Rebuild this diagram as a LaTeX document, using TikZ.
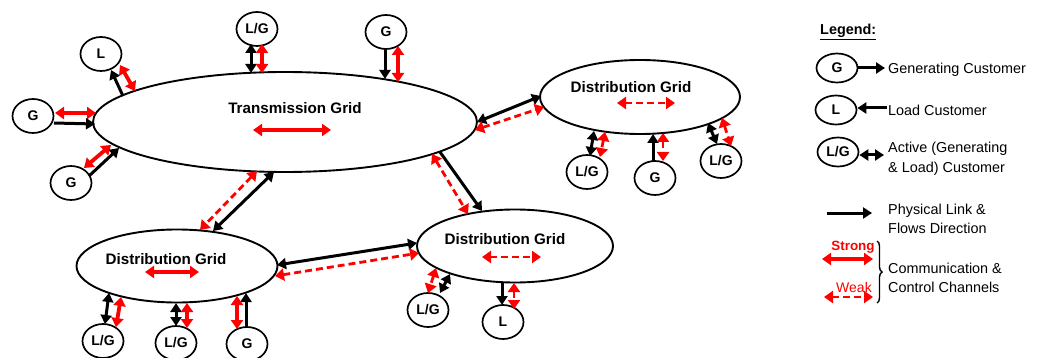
\documentclass[tikz,border=0pt]{standalone}
\usepackage{fontspec}
\setmainfont{Liberation Sans}
\usetikzlibrary{arrows.meta,shapes.geometric,calc,decorations.pathreplacing}
\definecolor{sigred}{RGB}{255,0,0}

\tikzset{
  gridellipse/.style={ellipse, draw, line width=1.9pt, inner sep=0pt},
  cust/.style={ellipse, draw, line width=1.7pt, minimum width=41pt, minimum height=34pt,
    inner sep=0pt, font=\fontsize{14}{16}\selectfont\bfseries},
  gridlabel/.style={font=\fontsize{15.2}{18}\selectfont\bfseries, inner sep=0pt},
  tipk/.tip={Triangle[length=9pt,width=11pt]},
  tipr/.tip={Triangle[length=9pt,width=12pt]},
  phys/.style={draw=black, line width=3pt, -tipk},
  physboth/.style={draw=black, line width=3pt, tipk-tipk},
  strongch/.style={draw=sigred, line width=3.8pt, tipr-tipr},
  weakch/.style={draw=sigred, line width=2.8pt, dash pattern=on 7pt off 4pt, tipr-tipr},
  legtext/.style={font=\fontsize{14.4}{19.5}\selectfont, align=left, anchor=west, inner sep=0pt},
}

\begin{document}
\begin{tikzpicture}[x=1pt,y=-1pt]
\useasboundingbox (0,0) rectangle (1046,358);

% grids
\node[gridellipse, minimum width=384pt, minimum height=100pt] (T) at (285,122) {};
\node[gridellipse, minimum width=200pt, minimum height=74pt] (DA) at (640,97) {};
\node[gridellipse, minimum width=201pt, minimum height=73pt] (DB) at (177,266) {};
\node[gridellipse, minimum width=196pt, minimum height=73pt] (DC) at (515,246) {};

\node[gridlabel] (Tl) at ($(T)+(10,-14)$) {Transmission Grid};
\node[gridlabel] (DAl) at ($(DA)+(-9,-10)$) {Distribution Grid};
\node[gridlabel] (DBl) at ($(DB)+(-11,-7)$) {Distribution Grid};
\node[gridlabel] (DCl) at ($(DC)+(-10,-7)$) {Distribution Grid};

% channels inside each grid
\draw[strongch] ($(T)+(-32,8)$) -- ($(T)+(46,8)$);
\draw[weakch] ($(DA)+(-23,6)$) -- ($(DA)+(35,6)$);
\draw[strongch] ($(DB)+(-32,6)$) -- ($(DB)+(22,6)$);
\draw[weakch] ($(DC)+(-33,11)$) -- ($(DC)+(26,11)$);

% customers
\node[cust] (L1) at (101,54) {L};
\node[cust] (G1) at (33,116) {G};
\node[cust] (G2) at (71,183) {G};
\node[cust] (LG1) at (257,29) {L/G};
\node[cust] (G3) at (386,32) {G};
\node[cust] (LG2) at (587,172) {L/G};
\node[cust] (G4) at (655,178) {G};
\node[cust] (LG3) at (721,161) {L/G};
\node[cust] (LG4) at (103,341) {L/G};
\node[cust] (LG5) at (176,343) {L/G};
\node[cust] (G5) at (247,344) {G};
\node[cust] (LG6) at (428,310) {L/G};
\node[cust] (L2) at (503,322) {L};

% transmission grid links
\draw[phys] ($(T)+(-162,-26)$) -- ($(L1)+(10,16)$);
\draw[strongch] ($(L1)+(19,11)$) -- ($(T)+(-150,-31)$);
\draw[strongch] ($(G1)+(22,-3)$) -- ($(T)+(-189,-9)$);
\draw[phys] ($(G1)+(21,7)$) -- ($(T)+(-190,2)$);
\draw[strongch] ($(G2)+(13,-15)$) -- ($(T)+(-174,23)$);
\draw[phys] ($(G2)+(18,-7)$) -- ($(T)+(-166,26)$);
\draw[physboth] ($(LG1)+(-6,15)$) -- ($(T)+(-34,-49)$);
\draw[strongch] ($(LG1)+(5,15)$) -- ($(T)+(-23,-49)$);
\draw[phys] ($(G3)+(-1,16)$) -- ($(T)+(100,-43)$);
\draw[strongch] ($(G3)+(12,14)$) -- ($(T)+(113,-40)$);

% grid to grid links
\draw[physboth] ($(T)+(192,0)$) -- ($(DA)+(-99,-1)$);
\draw[weakch] ($(T)+(190,8)$) -- ($(DA)+(-96,10)$);
\draw[phys] ($(T)+(155,30)$) -- ($(DC)+(-33,-35)$);
\draw[weakch] ($(T)+(147,32)$) -- ($(DC)+(-47,-32)$);
\draw[physboth] ($(T)+(-11,50)$) -- ($(DB)+(36,-35)$);
\draw[weakch] ($(T)+(-28,49)$) -- ($(DB)+(23,-36)$);
\draw[physboth] ($(DB)+(100,-1)$) -- ($(DC)+(-98,-3)$);
\draw[weakch] ($(DB)+(98,10)$) -- ($(DC)+(-96,7)$);

% upper-right distribution grid customers
\draw[physboth] ($(DA)+(-46,34)$) -- ($(LG2)+(3,-16)$);
\draw[weakch] ($(DA)+(-35,35)$) -- ($(LG2)+(13,-15)$);
\draw[phys] ($(G4)+(-2,-17)$) -- ($(DA)+(13,37)$);
\draw[weakch] ($(DA)+(23,36)$) -- ($(G4)+(8,-17)$);
\draw[physboth] ($(DA)+(68,26)$) -- ($(LG3)+(-4,-17)$);
\draw[weakch] ($(DA)+(82,21)$) -- ($(LG3)+(10,-15)$);

% lower-left distribution grid customers
\draw[physboth] ($(DB)+(-68,27)$) -- ($(LG4)+(2,-17)$);
\draw[strongch] ($(DB)+(-56,31)$) -- ($(LG4)+(13,-14)$);
\draw[physboth] ($(DB)+(-1,37)$) -- ($(LG5)+(0,-17)$);
\draw[strongch] ($(DB)+(10,37)$) -- ($(LG5)+(11,-15)$);
\draw[phys] ($(G5)+(-1,-17)$) -- ($(DB)+(69,27)$);
\draw[strongch] ($(DB)+(60,30)$) -- ($(G5)+(-10,-15)$);

% middle distribution grid customers
\draw[weakch] ($(DC)+(-79,22)$) -- ($(LG6)+(0,-17)$);
\draw[physboth] ($(DC)+(-65,28)$) -- ($(LG6)+(12,-17)$);
\draw[phys] ($(DC)+(-13,37)$) -- ($(L2)+(-1,-17)$);
\draw[weakch] ($(DC)+(-1,37)$) -- ($(L2)+(11,-13)$);

% legend
\node[font=\fontsize{14.4}{16}\selectfont\bfseries, anchor=west, inner sep=0pt] (leg) at (820,32) {\underline{Legend:}};
\node[cust, minimum height=29pt] (gG) at (837,68) {G};
\node[legtext] (tGen) at (888,70) {Generating Customer};
\draw[phys] (gG.east) -- ($(tGen.west)+(-3,-2)$);
\node[cust, minimum height=29pt] (gL) at (836,110) {L};
\node[legtext] (tLoad) at (888,110) {Load Customer};
\draw[phys] ($(tLoad.west)+(-1,-2)$) -- ($(gL.east)+(0,-2)$);
\node[cust, minimum height=29pt] (gLG) at (838,152) {L/G};
\node[legtext] (tAct) at (888,159) {Active (Generating\\\& Load) Customer};
\draw[physboth] ($(gLG.east)+(0,3)$) -- ($(tAct.west)+(-4,-4)$);

\coordinate (pA) at (827,213);
\coordinate (pB) at (872,213);
\draw[phys] (pA) -- (pB);
\node[legtext] (tPhys) at (888,219) {Physical Link \&\\Flows Direction};

\node[font=\fontsize{13.4}{15}\selectfont\bfseries, text=sigred, inner sep=0pt] (sL) at (853,247) {Strong};
\coordinate (sA) at (822,259);
\coordinate (sB) at (873,259);
\draw[strongch] (sA) -- (sB);
\node[font=\fontsize{14}{15}\selectfont, text=sigred, inner sep=0pt] (wL) at (854,287) {Weak};
\coordinate (wA) at (824,297);
\coordinate (wB) at (873,297);
\draw[weakch] (wA) -- (wB);

\coordinate (bA) at (877,241);
\coordinate (bB) at (877,303);
\draw[line width=1.4pt, decorate, decoration={brace, amplitude=5pt}] (bA) -- (bB);
\node[legtext] (tComm) at (888,278) {Communication \&\\Control Channels};
\end{tikzpicture}
\end{document}
